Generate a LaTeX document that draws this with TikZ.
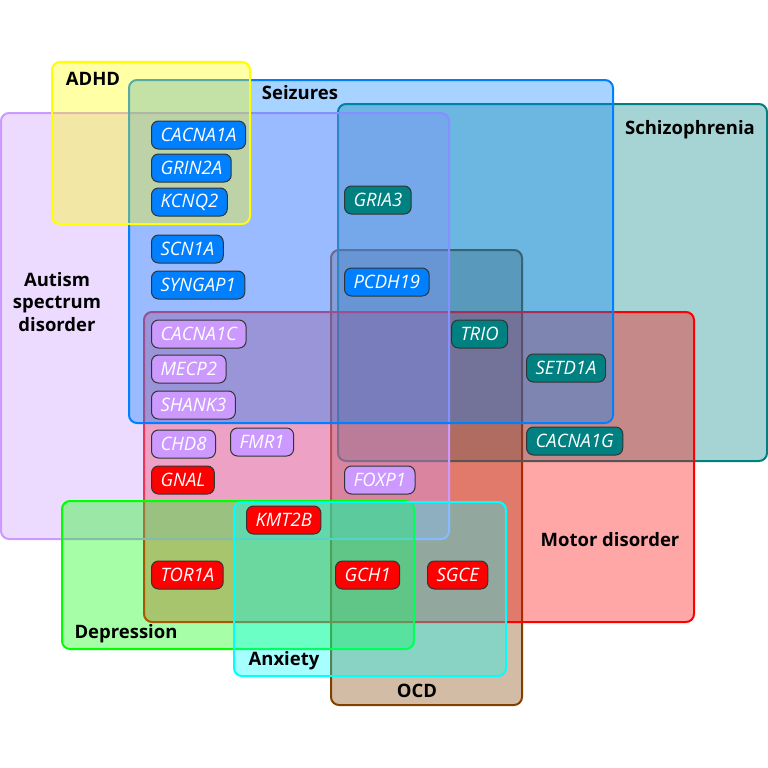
\documentclass[tikz,border=0pt]{standalone}
\usepackage{fontspec}
\setmainfont{Open Sans}
\usetikzlibrary{positioning}

\definecolor{seizblue}{HTML}{0080FF}
\definecolor{schizteal}{HTML}{008080}
\definecolor{autlav}{HTML}{CC99FF}
\definecolor{motred}{HTML}{FF0000}
\definecolor{depgreen}{HTML}{00FF00}
\definecolor{anxcyan}{HTML}{00FFFF}
\definecolor{ocdbrown}{HTML}{804000}
\definecolor{adhdyellow}{HTML}{FFFF00}

\tikzset{
  area/.style={draw=#1, fill=#1, fill opacity=0.35, line width=2pt, rounded corners=8pt},
  gene/.style={draw=black!80, fill=#1, line width=1pt, rounded corners=7pt,
    text=white, font=\itshape\fontsize{18.5}{18.5}\selectfont,
    minimum height=28pt, inner xsep=9pt, inner ysep=0pt, anchor=west},
  title/.style={font=\bfseries\fontsize{18.5}{22.5}\selectfont, align=center, text=black}
}

\begin{document}
\begin{tikzpicture}[x=1pt,y=-1pt]
    \useasboundingbox (0,0) rectangle (768,768);
    %% areas
    \draw[area=ocdbrown] (331,250) rectangle (522,705);
    \draw[area=schizteal] (338,104) rectangle (767,461);
    \draw[area=motred] (144,312) rectangle (694,622);
    \draw[area=autlav] (1,113) rectangle (449,539);
    \draw[area=seizblue] (129,80) rectangle (613,423);
    \draw[area=adhdyellow] (52,62) rectangle (250,224);
    \draw[area=depgreen] (62,501) rectangle (414,649);
    \draw[area=anxcyan] (234,502) rectangle (506,676);
    %% titles
    \node[title] (adhd) at (93,79) {ADHD};
    \node[title] (seiz) at (300,93) {Seizures};
    \node[title] (schiz) at (690,130) {Schizophrenia};
    \node[title] (aut) at (57,302) {Autism\\spectrum\\disorder};
    \node[title] (mot) at (610,540) {Motor disorder};
    \node[title] (dep) at (126,634) {Depression};
    \node[title] (anx) at (284,661) {Anxiety};
    \node[title] (ocd) at (417,691) {OCD};
    %% seizures genes
    \node[gene=seizblue] (g1) at (151,135) {CACNA1A};
    \node[gene=seizblue, below=4pt of g1.south west, anchor=north west] (g2) {GRIN2A};
    \node[gene=seizblue, below=5pt of g2.south west, anchor=north west] (g3) {KCNQ2};
    \node[gene=seizblue, below=18pt of g3.south west, anchor=north west] (g4) {SCN1A};
    \node[gene=seizblue, below=7pt of g4.south west, anchor=north west] (g5) {SYNGAP1};
    \node[gene=seizblue] (g6) at (344,282) {PCDH19};
    %---
    \node[gene=schizteal] (s1) at (344,200) {GRIA3};
    \node[gene=schizteal] (s2) at (451,334) {TRIO};
    \node[gene=schizteal] (s3) at (526,368) {SETD1A};
    \node[gene=schizteal] (s4) at (526,441) {CACNA1G};
    %% autism genes
    \node[gene=autlav] (a1) at (151,334) {CACNA1C};
    \node[gene=autlav, below=6pt of a1.south west, anchor=north west] (a2) {MECP2};
    \node[gene=autlav, below=7pt of a2.south west, anchor=north west] (a3) {SHANK3};
    \node[gene=autlav, below=10pt of a3.south west, anchor=north west] (a4) {CHD8};
    \node[gene=autlav] (a5) at (230,442) {FMR1};
    \node[gene=autlav] (a6) at (344,480) {FOXP1};
    %% motor genes
    \node[gene=motred] (m1) at (151,480) {GNAL};
    \node[gene=motred] (m2) at (246,520) {KMT2B};
    \node[gene=motred] (m3) at (151,575) {TOR1A};
    \node[gene=motred] (m4) at (335,575) {GCH1};
    \node[gene=motred] (m5) at (427,575) {SGCE};
\end{tikzpicture}
\end{document}
